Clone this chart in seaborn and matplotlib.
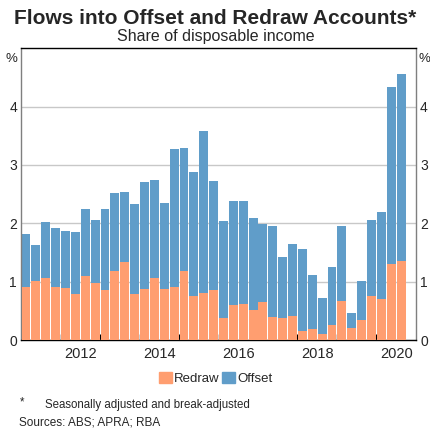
import pandas as pd
import matplotlib
matplotlib.use("Agg")
import matplotlib.pyplot as plt
from matplotlib.patches import Patch
import seaborn as sns

# quarterly data, 2011 Q1 to 2020 Q3, % of disposable income
redraw = [0.91, 1.01, 1.07, 0.91, 0.90, 0.79, 1.10, 0.98, 0.86, 1.19,
          1.33, 0.79, 0.87, 1.07, 0.87, 0.91, 1.18, 0.75, 0.80, 0.85,
          0.38, 0.61, 0.62, 0.52, 0.65, 0.40, 0.38, 0.42, 0.16, 0.19,
          0.10, 0.26, 0.67, 0.20, 0.35, 0.76, 0.71, 1.30, 1.35]
offset = [0.90, 0.62, 0.95, 1.01, 0.97, 1.07, 1.15, 1.08, 1.39, 1.33,
          1.21, 1.54, 1.83, 1.67, 1.47, 2.37, 2.11, 2.13, 2.78, 1.88,
          1.66, 1.77, 1.76, 1.58, 1.34, 1.55, 1.04, 1.22, 1.40, 0.92,
          0.63, 0.99, 1.28, 0.27, 0.67, 1.30, 1.49, 3.03, 3.20]
quarters = [str(p) for p in pd.period_range("2011Q1", periods=len(redraw), freq="Q")]
year_labels = ["2012", "2014", "2016", "2018", "2020"]

redraw_col = "#FF9E70"
offset_col = "#609DC9"

df = pd.DataFrame({"quarter": quarters, "redraw": redraw, "offset": offset})
df["total"] = df["redraw"] + df["offset"]

sns.set_style("white")
plt.rcParams["font.family"] = ["Liberation Sans", "DejaVu Sans"]

fig = plt.figure(figsize=(4.31, 4.30), dpi=100)
ax = fig.add_axes([0.049, 0.209, 0.916, 0.679])

# stacked bars: total first (offset colour), redraw drawn over it
sns.barplot(data=df, x="quarter", y="total", color=offset_col, saturation=1,
            width=0.9, linewidth=0, ax=ax, zorder=2)
sns.barplot(data=df, x="quarter", y="redraw", color=redraw_col, saturation=1,
            width=0.9, linewidth=0, ax=ax, zorder=3)

ax.set_xlim(-0.5, 39.5)
ax.set_ylim(0, 5)
ax.set_xlabel("")
ax.set_ylabel("")

# year boundary ticks, labels centred on each even year
ax.set_xticks([3.5 + 4 * i for i in range(9)])
ax.set_xticklabels([])
ax.set_xticks([5.5 + 8 * i for i in range(len(year_labels))], minor=True)
ax.set_xticklabels(year_labels, minor=True, fontsize=10.5)
ax.tick_params(axis="x", which="major", direction="in", length=4, width=1,
               color="black", bottom=True)
ax.tick_params(axis="x", which="minor", length=0, pad=5)

ax.set_yticks([0, 1, 2, 3, 4])
ax.set_yticklabels(["0", "1", "2", "3", "4"])
ax.tick_params(axis="y", length=0, labelsize=10, labelleft=True,
               labelright=True, pad=3)
ax.yaxis.grid(True, color="#c8c8c8", linewidth=1, zorder=0)
ax.set_axisbelow(True)

for side in ["top", "bottom"]:
    ax.spines[side].set_color("black")
    ax.spines[side].set_linewidth(1)
for side in ["left", "right"]:
    ax.spines[side].set_color("#7f7f7f")
    ax.spines[side].set_linewidth(1)

ax.text(-0.01, 0.985, "%", transform=ax.transAxes, ha="right", va="top", fontsize=9.5)
ax.text(1.007, 0.985, "%", transform=ax.transAxes, ha="left", va="top", fontsize=9.5)

fig.text(0.5, 0.958, "Flows into Offset and Redraw Accounts*", ha="center",
         va="center", fontsize=15, fontweight="bold")
fig.text(0.5, 0.914, "Share of disposable income", ha="center", va="center",
         fontsize=11.5)

handles = [Patch(color=redraw_col, label="Redraw"),
           Patch(color=offset_col, label="Offset")]
fig.legend(handles=handles, loc="center", bbox_to_anchor=(0.5, 0.12), ncol=2,
           frameon=False, fontsize=9.5, handlelength=1.0, handleheight=1.0,
           handletextpad=0.15, columnspacing=0.2, borderpad=0)

fig.text(0.047, 0.064, "*", ha="left", va="center", fontsize=8.3)
fig.text(0.105, 0.058, "Seasonally adjusted and break-adjusted", ha="left",
         va="center", fontsize=8.3)
fig.text(0.045, 0.018, "Sources: ABS; APRA; RBA", ha="left", va="center",
         fontsize=8.5)

fig.savefig("out.png", dpi=100)
plt.close(fig)
